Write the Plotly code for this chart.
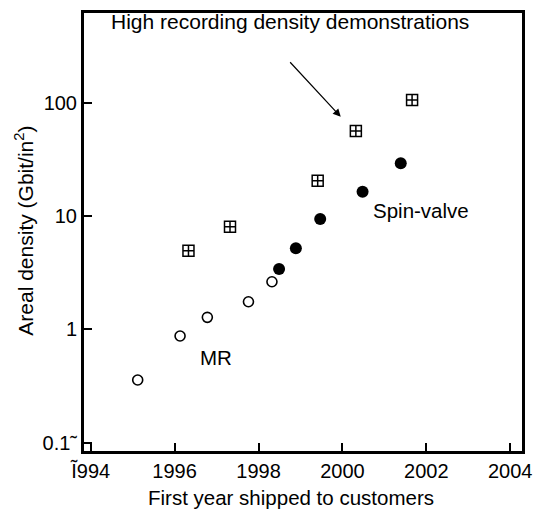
import plotly.graph_objects as go

# First year shipped vs areal density (Gbit/in^2)
mr_years = [1995.12, 1996.13, 1996.78, 1997.76, 1998.32]
mr_density = [0.357, 0.873, 1.276, 1.752, 2.63]

sv_years = [1998.49, 1998.89, 1999.47, 2000.48, 2001.39]
sv_density = [3.41, 5.19, 9.41, 16.4, 29.2]

demo_years = [1996.33, 1997.32, 1999.41, 2000.32, 2001.66]
demo_density = [4.94, 8.05, 20.5, 56.3, 105.7]

x_ticks = [1994, 1996, 1998, 2000, 2002, 2004]
x_ticktext = ["\u0128994", "1996", "1998", "2000", "2002", "2004"]
y_ticks = [0.1, 1, 10, 100]
y_ticktext = ["0.1\u02dc", "1", "10", "100"]

FONT = "Liberation Sans, Arial, sans-serif"

fig = go.Figure()
fig.add_trace(go.Scatter(
    x=mr_years, y=mr_density, mode="markers", name="MR",
    marker=dict(symbol="circle-open", size=10, color="black", line=dict(width=1.6)),
))
fig.add_trace(go.Scatter(
    x=sv_years, y=sv_density, mode="markers", name="Spin-valve",
    marker=dict(symbol="circle", size=12, color="black"),
))
fig.add_trace(go.Scatter(
    x=demo_years, y=demo_density, mode="markers", name="Demonstrations",
    marker=dict(symbol="square-cross-open", size=11, color="black", line=dict(width=1.5)),
))

text_font = dict(family=FONT, size=20.5, color="black")
fig.add_annotation(x=1998.76, y=2.721, text="High recording density demonstrations",
                   showarrow=False, font=dict(family=FONT, size=21, color="black"))
# Arrow pointing at the 2000 demonstration (log axis: y in log10 units)
fig.add_annotation(x=1999.96, y=1.876, ax=-52, ay=-56, text="",
                   showarrow=True, arrowhead=2, arrowsize=1.3, arrowwidth=1.2,
                   arrowcolor="black")
fig.add_annotation(x=2001.87, y=1.053, text="Spin-valve", showarrow=False, font=text_font)
fig.add_annotation(x=1996.98, y=-0.253, text="MR", showarrow=False, font=text_font)

# Axis titles placed in paper coordinates
fig.add_annotation(xref="paper", yref="paper", x=0.4737, y=-0.106,
                   text="First year shipped to customers", showarrow=False,
                   xanchor="center", yanchor="middle",
                   font=dict(family=FONT, size=20.5, color="black"))
fig.add_annotation(xref="paper", yref="paper", x=-0.137, y=0.503,
                   text="Areal density (Gbit/in<sup>2</sup>)", showarrow=False,
                   textangle=-90, xanchor="center", yanchor="middle",
                   font=dict(family=FONT, size=21, color="black"))

axis_common = dict(
    showline=True, mirror=True, linewidth=3, linecolor="black",
    ticks="inside", ticklen=8, tickwidth=1.5, tickcolor="black",
    showgrid=False, zeroline=False, automargin=False,
    tickfont=dict(family=FONT, size=20, color="black"),
)

fig.update_layout(
    width=540, height=515,
    margin=dict(l=84, r=18, t=13, b=64),
    paper_bgcolor="white", plot_bgcolor="white",
    showlegend=False,
    xaxis=dict(range=[1993.84, 2004.28], tickvals=x_ticks, ticktext=x_ticktext,
               **axis_common),
    yaxis=dict(type="log", range=[-1.074, 2.792], tickvals=y_ticks, ticktext=y_ticktext,
               **axis_common),
)

fig.write_html("out.html")
